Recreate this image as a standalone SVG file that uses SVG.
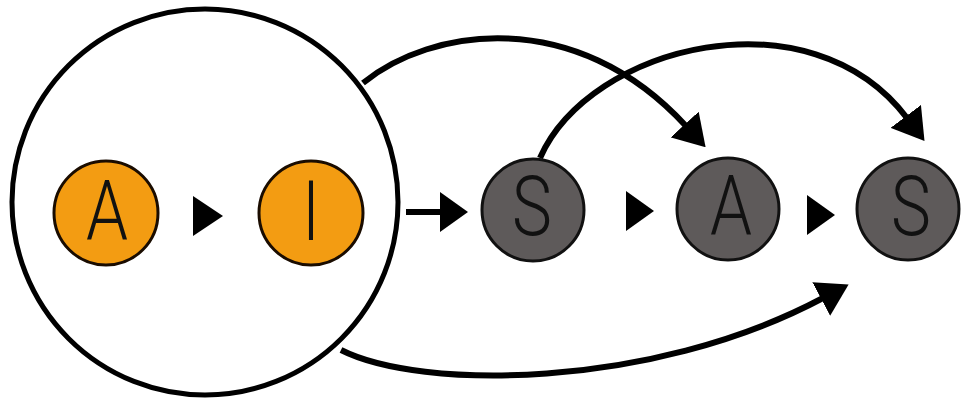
<svg xmlns="http://www.w3.org/2000/svg" width="964" height="400" viewBox="0 0 964 400">
<style>
.lbl{font-family:Roboto,"Liberation Sans",sans-serif;font-weight:300;font-size:84px;fill:#111;text-anchor:middle}
.orange{fill:#F39C12;stroke:#1a0c00;stroke-width:3}
.gray{fill:#5E5A5A;stroke:#111;stroke-width:3}
.conn{fill:none;stroke:#000;stroke-width:6}
.head{fill:#000}
</style>
<defs>
<marker id="arr" markerUnits="userSpaceOnUse" viewBox="0 -19 31 38" refX="2" refY="0" markerWidth="31" markerHeight="38" orient="auto">
<path d="M0,-19 L31,0 L0,19 Z" fill="#000"/>
</marker>
</defs>
<rect width="964" height="400" fill="#fff"/>
<g id="group-AI">
<circle cx="205" cy="202" r="193" fill="#fff" stroke="#000" stroke-width="5"/>
</g>
<g id="connectors">
<path class="conn" d="M363,83 C430,28 575,5 686,126" marker-end="url(#arr)"/>
<path class="conn" d="M540,158 C590,45 810,-10 907,118" marker-end="url(#arr)"/>
<path class="conn" d="M341,350 C420,390 650,390 823,298" marker-end="url(#arr)"/>
<line class="conn" x1="406" y1="212" x2="442" y2="212"/>
<polygon class="head" points="440,192 468,212 440,232"/>
<polygon class="head" points="193,196 223,216 193,236"/>
<polygon class="head" points="626,191 654,211 626,231"/>
<polygon class="head" points="807,195 835,215 807,235"/>
</g>
<g id="node-A1">
<circle class="orange" cx="106" cy="213" r="52"/>
<text class="lbl" transform="translate(107,240) scale(0.8,1)">A</text>
</g>
<g id="node-I">
<circle class="orange" cx="311" cy="213" r="52"/>
<text class="lbl" transform="translate(311,240) scale(0.8,1)">I</text>
</g>
<g id="node-S1">
<circle class="gray" cx="533" cy="210" r="51"/>
<text class="lbl" transform="translate(532,235) scale(0.8,1)">S</text>
</g>
<g id="node-A2">
<circle class="gray" cx="728" cy="209" r="51"/>
<text class="lbl" transform="translate(731,235) scale(0.8,1)">A</text>
</g>
<g id="node-S2">
<circle class="gray" cx="908" cy="209" r="51"/>
<text class="lbl" transform="translate(911,235) scale(0.8,1)">S</text>
</g>
</svg>
